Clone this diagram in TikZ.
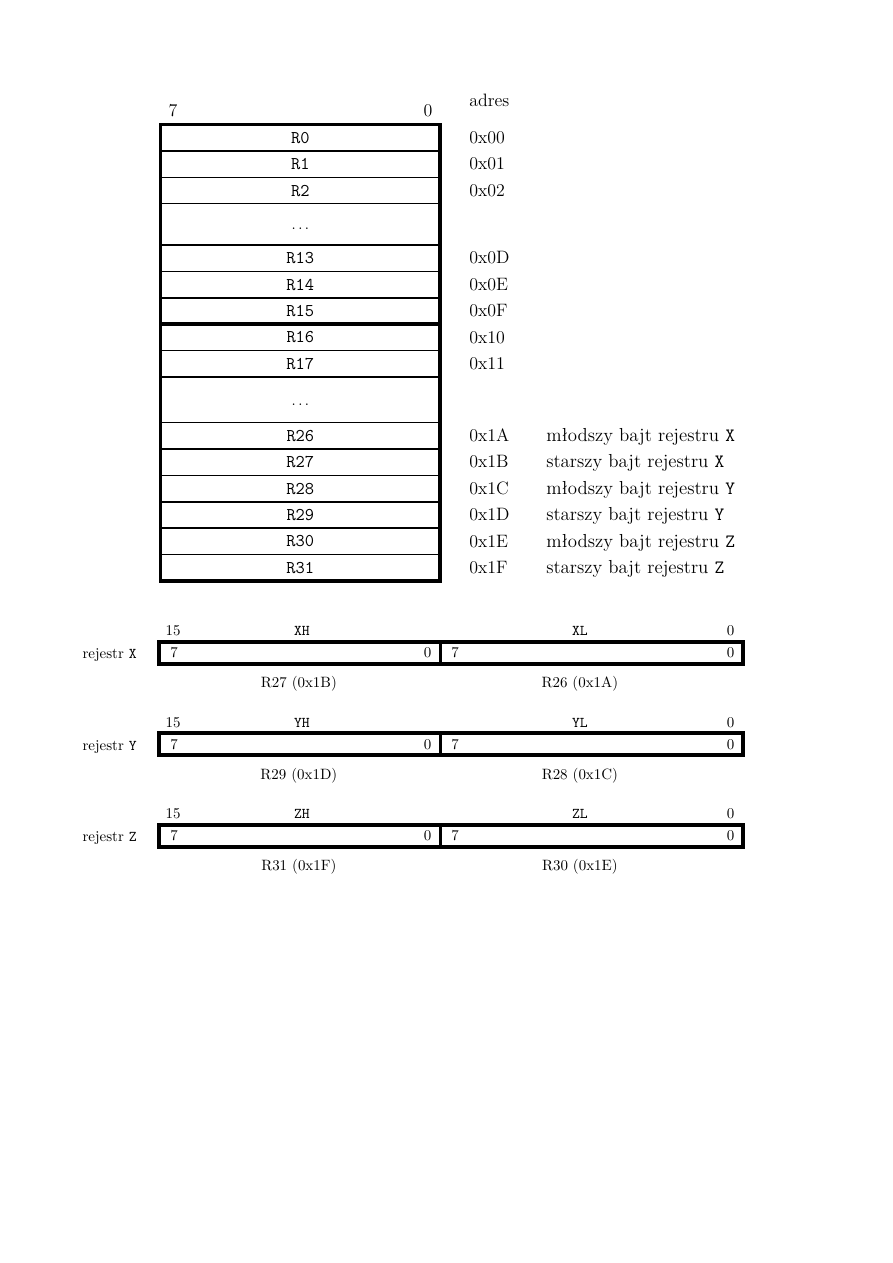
\documentclass[tikz,border=0pt]{standalone}
\usepackage{fontspec}
\usetikzlibrary{calc,positioning}

% one pixel of the page
\newcommand{\px}{0.023516cm}

\tikzset{
    regcell/.style={draw, line width=1pt, minimum width=279.7*\px, minimum height=26.4*\px,
        inner sep=0pt, outer sep=0pt, font=\large\ttfamily, text height=7.4pt, text depth=0pt},
    gapcell/.style={regcell, font=\normalsize},
    addr/.style={anchor=west, inner sep=0pt, font=\large, text height=7.7pt, text depth=0pt},
    regdesc/.style={addr, font=\fontsize{12.6}{14}\selectfont},
    bitlbl/.style={inner sep=0pt, font=\fontsize{10}{12}\selectfont, text height=6.4pt, text depth=0pt},
    halfreg/.style={draw, line width=1.8pt, minimum height=22*\px, inner sep=0pt, outer sep=0pt},
}

\begin{document}
\begin{tikzpicture}[x=\px, y=-\px]
    \useasboundingbox (0,0) rectangle (893,1263);

    % register file
    \foreach \nm/\yc/\ad in {R0/137.7/0x00, R1/164.1/0x01, R2/190.5/0x02,
            R13/258.2/0x0D, R14/284.6/0x0E, R15/311/0x0F, R16/337.4/0x10, R17/363.8/0x11,
            R26/435.8/0x1A, R27/462.2/0x1B, R28/488.6/0x1C, R29/515/0x1D, R30/541.4/0x1E, R31/567.8/0x1F} {
        \node[regcell] (\nm) at (300.35,\yc) {\nm};
        \node[addr] (a\nm) at (469,\yc) {\ad};
    }
    \node[gapcell, minimum height=41.3*\px] (gapA) at (300.35,224.35) {$\ldots$};
    \node[gapcell, minimum height=45.6*\px] (gapB) at (300.35,399.8) {$\ldots$};

    \foreach \nm/\kind/\rg in {R26/młodszy/X, R27/starszy/X, R28/młodszy/Y,
            R29/starszy/Y, R30/młodszy/Z, R31/starszy/Z} {
        \node[regdesc, right=1.81cm of a\nm.west] (d\nm) {\kind{} bajt rejestru \texttt{\rg}};
    }

    \draw[line width=2.4pt] (R0.north west) rectangle (R31.south east);
    \draw[line width=2.4pt] (R15.south west) -- (R15.south east);

    \node[addr, anchor=center] (msb) at (173,111) {7};
    \node[addr, anchor=center] (lsb) at (428,111) {0};
    \node[anchor=base west, inner sep=0pt, font=\large] (adres) at (469,106.7) {adres};

    % pointer registers X, Y, Z
    \foreach \r/\yc/\hi/\lo in {X/653/R27 (0x1B)/R26 (0x1A),
            Y/744.4/R29 (0x1D)/R28 (0x1C), Z/835.8/R31 (0x1F)/R30 (0x1E)} {
        \node[halfreg, minimum width=281.7*\px] (hi\r) at (299.85,\yc) {};
        \node[halfreg, minimum width=302.3*\px, right=0pt of hi\r] (lo\r) {};
        \draw[line width=2.7pt] (hi\r.north west) rectangle (lo\r.south east);

        \node[bitlbl] (hi\r-msb) at ($(hi\r.west)+(15,0)$) {7};
        \node[bitlbl] (hi\r-lsb) at ($(hi\r.east)+(-13,0)$) {0};
        \node[bitlbl] (lo\r-msb) at ($(lo\r.west)+(14.5,0)$) {7};
        \node[bitlbl] (lo\r-lsb) at ($(lo\r.east)+(-12.5,0)$) {0};

        \node[bitlbl] (top\r-msb) at ($(hi\r.west)+(14,-22)$) {15};
        \node[bitlbl] (top\r-lsb) at ($(lo\r.east)+(-12.5,-22)$) {0};
        \node[bitlbl, font=\fontsize{10}{12}\selectfont\ttfamily] (hiname\r) at ($(hi\r.center)+(2,-22)$) {\r H};
        \node[bitlbl, font=\fontsize{10}{12}\selectfont\ttfamily] (loname\r) at ($(lo\r.center)+(-12,-22)$) {\r L};

        \node[bitlbl] (hiaddr\r) at ($(hi\r.center)+(-1,30)$) {\hi};
        \node[bitlbl] (loaddr\r) at ($(lo\r.center)+(-12,30)$) {\lo};
        \node[bitlbl, anchor=east] (name\r) at ($(hi\r.west)+(-22,1)$) {rejestr \texttt{\r}};
    }
\end{tikzpicture}
\end{document}
